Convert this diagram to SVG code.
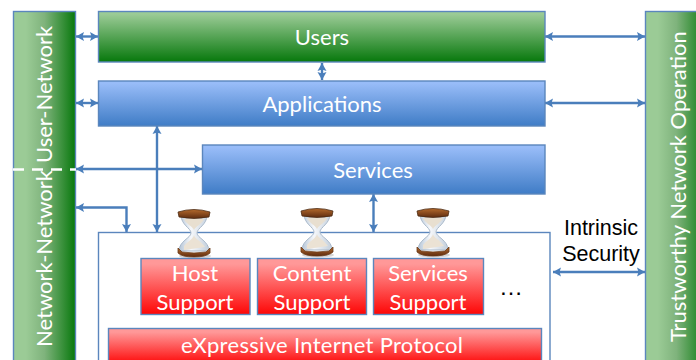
<svg xmlns="http://www.w3.org/2000/svg" width="696" height="360" viewBox="0 0 696 360">
<style>
.t{font-family:Lato,"Noto Sans",sans-serif;font-size:22px;font-weight:400;fill:#fff;text-anchor:middle}
.k{font-family:"Liberation Sans",Arial,sans-serif;font-size:21.500px;fill:#000;text-anchor:middle}
.b{stroke:#5b86bd;stroke-width:1.4}
.c{fill:none;stroke:#4a7ebb;stroke-width:2.400;marker-start:url(#a);marker-end:url(#a)}
</style>
<defs>
<marker id="a" markerUnits="userSpaceOnUse" markerWidth="10" markerHeight="10" refX="8" refY="5" orient="auto-start-reverse"><path d="M0 0.500L8 5L0 9.500L1.500 5Z" fill="#4a7ebb"/></marker>
<linearGradient id="gv" x1="0" y1="0" x2="0" y2="1"><stop offset="0.05" stop-color="#9bcb96"/><stop offset="1" stop-color="#07780c"/></linearGradient>
<linearGradient id="gh" x1="0" y1="0" x2="1" y2="0"><stop offset="0.2" stop-color="#9bcb96"/><stop offset="0.5" stop-color="#7fb37c"/><stop offset="1" stop-color="#07780c"/></linearGradient>
<linearGradient id="bl" x1="0" y1="0" x2="0" y2="1"><stop offset="0.05" stop-color="#98bcf8"/><stop offset="1" stop-color="#3f7cc6"/></linearGradient>
<linearGradient id="rd" x1="0" y1="0" x2="0" y2="1"><stop offset="0.1" stop-color="#ff9898"/><stop offset="1" stop-color="#fe0606"/></linearGradient>
<linearGradient id="gl" x1="0" y1="0" x2="1" y2="0"><stop offset="0" stop-color="#b4c4d6"/><stop offset="0.4" stop-color="#f6f8fb"/><stop offset="1" stop-color="#c2cedb"/></linearGradient>
<linearGradient id="wd" x1="0" y1="0" x2="0" y2="1"><stop offset="0" stop-color="#b3692c"/><stop offset="1" stop-color="#5e2c10"/></linearGradient>
<g id="hg">
<ellipse cx="1" cy="47" rx="16" ry="2.500" fill="#bbb" opacity="0.6"/>
<path d="M-13 6C-13 16 -3 19 -3 24C-3 29 -15 32 -15 42L15 42C15 32 3 29 3 24C3 19 13 16 13 6Z" fill="url(#gl)" stroke="#a9b9cb" stroke-width="1"/>
<path d="M-10 37C-6 32 -1 30 0 26C1 30 7 32 11 38L-10 41Z" fill="#ebe2d4"/>
<path d="M-10 10C-8 15 -2 17 0 21C2 17 8 15 10 10Z" fill="#e8dfd0"/>
<path d="M-16 3Q0 -2 16 3L15 8Q0 11 -15 8Z" fill="url(#wd)" stroke="#4d2c14" stroke-width="0.800"/>
<path d="M-16 39L-16 44Q-12 48 0 48Q12 48 16 44L16 39L12 43Q0 45 -12 43Z" fill="url(#wd)" stroke="#6b3a17" stroke-width="0.800"/>
</g>
</defs>
<g id="connectors">
<path class="c" d="M76 36.500H98"/>
<path class="c" d="M76 103H98"/>
<path class="c" d="M76 169H202"/>
<path class="c" d="M76 207.500H126.500V232"/>
<path class="c" d="M157 126V232"/>
<path class="c" d="M322 63V80"/>
<path class="c" d="M373.500 194V232"/>
<path class="c" d="M545 36.500H645"/>
<path class="c" d="M545 103H645"/>
<path class="c" d="M553 272H645"/>
</g>
<g id="user-network"><rect class="b" x="13.500" y="11.500" width="62" height="352" fill="url(#gh)"/>
<text class="t" transform="translate(52 163) rotate(-90)" style="text-anchor:start">User-Network</text>
<text class="t" transform="translate(52 347) rotate(-90)" style="text-anchor:start">Network-Network</text>
<path d="M13 169.500H76" stroke="#fff" stroke-width="2.500" stroke-dasharray="11 8" fill="none"/></g>
<g id="users"><rect class="b" x="98.500" y="11.500" width="446.500" height="50.500" fill="url(#gv)"/><text class="t" x="322" y="45">Users</text></g>
<g id="applications"><rect class="b" x="98.500" y="81" width="446.500" height="45" fill="url(#bl)"/><text class="t" x="322" y="112">Applications</text></g>
<g id="services"><rect class="b" x="202.500" y="145" width="342.500" height="49" fill="url(#bl)"/><text class="t" x="373" y="178">Services</text></g>
<g id="trustworthy"><rect class="b" x="645.500" y="11.500" width="62" height="352" fill="url(#gh)"/>
<text class="t" transform="translate(686 342) rotate(-90)" style="text-anchor:start">Trustworthy Network Operation</text></g>
<g id="container"><rect x="98.500" y="232.500" width="451.500" height="132" fill="#fff" class="b"/></g>
<g id="hourglasses"><use href="#hg" x="194" y="209"/><use href="#hg" x="317" y="208"/><use href="#hg" x="433" y="208"/></g>
<g id="host"><rect class="b" x="141" y="258.500" width="109" height="56" fill="url(#rd)"/><text class="t" x="195" y="281">Host</text><text class="t" x="195" y="310">Support</text></g>
<g id="content"><rect class="b" x="257.500" y="258.500" width="109" height="56" fill="url(#rd)"/><text class="t" x="312" y="281">Content</text><text class="t" x="312" y="310">Support</text></g>
<g id="services-support"><rect class="b" x="373.500" y="258.500" width="110" height="56" fill="url(#rd)"/><text class="t" x="428" y="281">Services</text><text class="t" x="428" y="310">Support</text></g>
<g id="xip"><rect class="b" x="108.500" y="328.500" width="433" height="36" fill="url(#rd)"/><text class="t" x="322" y="353" textLength="282" lengthAdjust="spacing">eXpressive Internet Protocol</text></g>
<g id="labels"><text class="k" x="601" y="235">Intrinsic</text><text class="k" x="601" y="261">Security</text><text class="k" x="511" y="295" style="font-size:24px">…</text></g>
</svg>
